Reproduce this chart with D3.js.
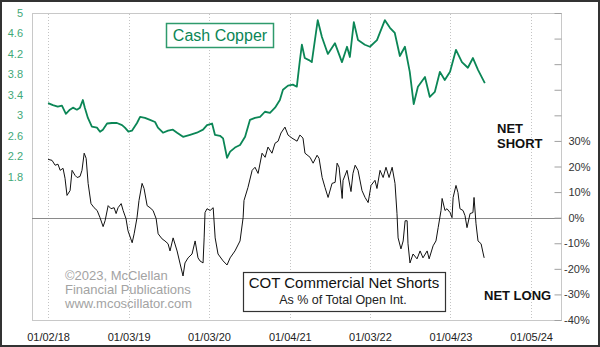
<!DOCTYPE html>
<html><head><meta charset="utf-8">
<script src="https://cdn.jsdelivr.net/npm/d3@7"></script>
<style>
body{margin:0;background:#fff}
svg{display:block;font-family:Arial,"Liberation Sans",sans-serif}
</style>
</head><body>
<svg id="c" width="600" height="347"></svg>
<script>
// ---- data ----
const copperDates = ["2018-01-02","2018-01-24","2018-02-15","2018-03-06","2018-03-24","2018-04-11","2018-04-25","2018-05-13","2018-05-27","2018-06-09","2018-06-18","2018-07-02","2018-07-20","2018-08-12","2018-08-26","2018-09-08","2018-09-27","2018-10-19","2018-11-11","2018-12-04","2018-12-17",
"2019-01-02","2019-01-18","2019-02-10","2019-02-24","2019-03-18","2019-04-10","2019-05-03","2019-05-16","2019-06-08","2019-07-01","2019-07-23","2019-08-11","2019-09-07","2019-10-09","2019-11-09","2019-12-07","2019-12-25",
"2020-01-17","2020-01-30","2020-02-22","2020-03-07","2020-03-25","2020-04-08","2020-04-30","2020-05-23","2020-06-15","2020-07-07","2020-07-30","2020-08-22","2020-09-13","2020-10-06","2020-10-29","2020-11-20","2020-12-04","2020-12-27",
"2021-01-18","2021-02-05","2021-02-19","2021-02-28","2021-03-13","2021-04-01","2021-04-14","2021-05-11","2021-05-30","2021-06-26","2021-07-28","2021-08-29","2021-09-21","2021-10-04","2021-10-22","2021-11-10","2021-12-11",
"2022-01-03","2022-02-04","2022-02-17","2022-03-12","2022-04-04","2022-04-26","2022-05-19","2022-06-11","2022-07-03","2022-07-21","2022-08-09","2022-09-10","2022-10-02","2022-10-25","2022-11-17","2022-12-09",
"2023-01-02","2023-01-29","2023-02-25","2023-03-24","2023-04-16","2023-05-09","2023-06-09"];
const copperPrices = [3.24,3.20,3.17,3.19,3.03,3.11,3.15,3.11,3.15,3.30,3.15,2.95,2.78,2.76,2.68,2.72,2.84,2.85,2.85,2.81,2.76,
2.68,2.70,2.85,2.97,2.95,2.91,2.87,2.76,2.66,2.70,2.72,2.66,2.58,2.62,2.66,2.72,2.81,
2.84,2.62,2.60,2.55,2.17,2.29,2.37,2.42,2.58,2.91,2.95,2.97,3.07,3.05,3.15,3.30,3.50,3.58,
3.60,3.56,4.08,4.38,4.12,4.08,4.04,4.86,4.53,4.20,4.41,4.04,4.34,4.14,4.82,4.47,4.38,
4.34,4.47,4.61,4.86,4.71,4.61,4.16,4.34,3.85,3.22,3.56,3.75,3.36,3.46,3.85,3.69,
3.85,4.28,4.04,3.93,4.12,3.89,3.63];

const cotStart = "2018-01-02";
const cotDays = [0,18,32,45,55,68,77,86,100,109,123,132,145,154,164,173,182,195,209,223,236,250,259,273,286,300,309,318,332,341,354,363,382,391,404,413,427,436,450,463,477,491,500,518,531,545,554,568,586,600,613,622,636,654,668,681,690,704,709,713,722,736,750,759,772,795,813,827,849,872,886,890,908,927,940,954,972,986,999,1017,1031,1045,1058,1076,1090,1108,1131,1144,1158,1167,1190,1204,1222,1231,1245,1258,1272,1290,1304,1313,1322,1336,1340,1358,1376,1385,1395,1408,1426,1440,1454,1467,1485,1494,1508,1522,1535,1549,1563,1576,1585,1590,1603,1613,1622,1631,1635,1644,1658,1676,1690,1703,1722,1731,1749,1762,1772,1785,1790,1803,1812,1826,1835,1840,1853,1862,1871,1885,1894,1903,1917,1930,1935,1944,1953,1967,1976,1981];
const cotPct = [22.8,22.4,20.5,20.9,18.5,19.3,15.4,8.7,10.6,18.5,16.5,15.7,16.1,18.5,25.2,23.2,13.4,5.5,3.9,2.8,0,-3.5,-1.2,4.7,3.5,3.9,1.6,3.9,5.5,2.8,-0.4,-5.1,-9.8,-6.3,0,6.7,13.4,11.4,4.7,3.9,2.8,-0.4,-6.3,-8.3,-9.1,-10.2,-13.0,-7.9,-13.0,-18.1,-22.8,-17.7,-15.7,-14.2,-9.1,-15.7,-16.9,-17.7,-7.9,2.0,3.5,2.8,3.9,-7.9,-14.2,-16.9,-18.5,-15.7,-13.0,-9.1,0,6.7,11.8,18.5,19.7,17.3,25.2,23.6,27.6,25.2,29.1,29.9,33.1,35.4,32.3,31.1,29.9,32.3,31.1,25.2,23.6,21.3,24.4,23.2,15.7,11.8,7.9,13.4,13.8,21.3,19.7,7.5,14.6,18.5,10.2,17.3,20.5,18.5,10.6,7.9,5.9,12.6,14.6,11.4,18.5,15.7,19.7,15.7,19.7,13.4,1.6,-7.9,-12.2,-9.1,-1.2,-1.2,-10.2,-17.7,-14.2,-16.1,-13.0,-15.7,-13.0,-16.1,-11.0,-9.1,-3.9,2.8,7.5,2.8,3.5,2.0,0,7.9,12.6,9.8,3.5,2.8,0.8,-3.9,1.6,2.0,7.9,-2.4,-9.1,-10.2,-13.8,-15.7];

const xTickDates = ["2018-01-02","2019-01-03","2020-01-03","2021-01-04","2022-01-03","2023-01-04","2024-01-05"];
const xDomainDates = ["2017-10-21","2024-05-20"];
const copperTicks = [1.8,2.2,2.6,3,3.4,3.8,4.2,4.6,5];
const copperDomain = [-1,5];
const pctTicks = [-40,-30,-20,-10,0,10,20,30,40,50,60,70,80];
const pctLabelMax = 30;
const pctDomain = [-40,80];

// ---- layout ----
const L = 32, R = 561, T = 13, B = 320;
const parse = d3.timeParse("%Y-%m-%d");
const svg = d3.select("#c");

const x = d3.scaleTime().domain(xDomainDates.map(parse)).range([L, R]);
const yL = d3.scaleLinear().domain(copperDomain).range([B, T]);
const yR = d3.scaleLinear().domain(pctDomain).range([B, T]);

const copper = copperDates.map((d, i) => ({date: parse(d), v: copperPrices[i]}));
const s0 = parse(cotStart);
const cot = cotDays.map((d, i) => ({date: d3.timeDay.offset(s0, d), v: cotPct[i]}));

// outer frame
svg.append("rect").attr("x", 1).attr("y", 1).attr("width", 598).attr("height", 345)
  .attr("fill", "#fff").attr("stroke", "#333").attr("stroke-width", 2);

// plot border
svg.append("rect").attr("x", L + 0.5).attr("y", T + 0.5).attr("width", R - L).attr("height", B - T)
  .attr("fill", "none").attr("stroke", "#c8c8c8").attr("stroke-width", 1);

// vertical dotted gridlines
svg.append("g").selectAll("line").data(xTickDates.map(parse)).join("line")
  .attr("x1", d => Math.round(x(d)) + 0.5).attr("x2", d => Math.round(x(d)) + 0.5)
  .attr("y1", T + 1).attr("y2", B)
  .attr("stroke", "#c4c4c4").attr("stroke-dasharray", "1,2");

// zero line
svg.append("line").attr("x1", L).attr("x2", R).attr("y1", Math.round(yR(0)) + 0.5).attr("y2", Math.round(yR(0)) + 0.5)
  .attr("stroke", "#8a8a8a").attr("stroke-width", 1);

// right axis
const ra = svg.append("g").attr("transform", `translate(${R + 0.5},0)`)
  .call(d3.axisRight(yR).tickValues(pctTicks).tickSize(-7).tickPadding(7)
    .tickFormat(d => d <= pctLabelMax ? d + "%" : ""));
ra.select(".domain").remove();
ra.selectAll("line").attr("stroke", "#a0a0a0");
ra.selectAll("text").attr("font-size", 11).attr("fill", "#333").attr("font-family", "Arial, 'Liberation Sans', sans-serif")
  .attr("dx", d => d < 0 ? -4.5 : 0);

// left axis
const la = svg.append("g").attr("transform", `translate(${L},0)`)
  .call(d3.axisLeft(yL).tickValues(copperTicks).tickSize(0).tickPadding(9).tickFormat(d3.format("")));
la.select(".domain").remove();
la.selectAll("text").attr("font-size", 11).attr("fill", "#3fa878").attr("font-family", "Arial, 'Liberation Sans', sans-serif");

// bottom axis
const ba = svg.append("g").attr("transform", `translate(0,${B})`)
  .call(d3.axisBottom(x).tickValues(xTickDates.map(parse)).tickSize(0).tickPadding(13).tickFormat(d3.timeFormat("%m/%d/%y")));
ba.select(".domain").remove();
ba.selectAll("text").attr("font-size", 11).attr("fill", "#222").attr("font-family", "Arial, 'Liberation Sans', sans-serif");

// copyright text
const cp = svg.append("g").attr("fill", "#a3a3a3").attr("font-size", 13);
["©2023, McClellan", "Financial Publications", "www.mcoscillator.com"].forEach((t, i) => {
  cp.append("text").attr("x", 65).attr("y", 280 + i * 14).text(t);
});

// series
svg.append("path").datum(cot)
  .attr("d", d3.line().x(d => x(d.date)).y(d => yR(d.v)))
  .attr("fill", "none").attr("stroke", "#111").attr("stroke-width", 1);

svg.append("path").datum(copper)
  .attr("d", d3.line().x(d => x(d.date)).y(d => yL(d.v)))
  .attr("fill", "none").attr("stroke", "#0b8656").attr("stroke-width", 1.8).attr("stroke-linejoin", "round");

// legend: Cash Copper
svg.append("rect").attr("x", 166.5).attr("y", 23.5).attr("width", 107).attr("height", 24)
  .attr("fill", "#fff").attr("stroke", "#2e9a6c").attr("stroke-width", 1.5);
svg.append("text").attr("x", 220).attr("y", 41).attr("text-anchor", "middle")
  .attr("font-size", 16).attr("fill", "#0b8656").text("Cash Copper");

// legend: COT
svg.append("rect").attr("x", 243.5).attr("y", 272.5).attr("width", 202).attr("height", 39)
  .attr("fill", "#fff").attr("stroke", "#333").attr("stroke-width", 1.2);
svg.append("text").attr("x", 344).attr("y", 288).attr("text-anchor", "middle")
  .attr("font-size", 15).attr("fill", "#111").text("COT Commercial Net Shorts");
svg.append("text").attr("x", 343).attr("y", 304).attr("text-anchor", "middle")
  .attr("font-size", 12.5).attr("fill", "#222").text("As % of Total Open Int.");

// NET SHORT / NET LONG
const lb = svg.append("g").attr("font-size", 13).attr("font-weight", "bold").attr("fill", "#111");
lb.append("text").attr("x", 497).attr("y", 133).text("NET");
lb.append("text").attr("x", 497).attr("y", 147.5).text("SHORT");
lb.append("text").attr("x", 484).attr("y", 299.5).text("NET LONG");
</script>
</body></html>
